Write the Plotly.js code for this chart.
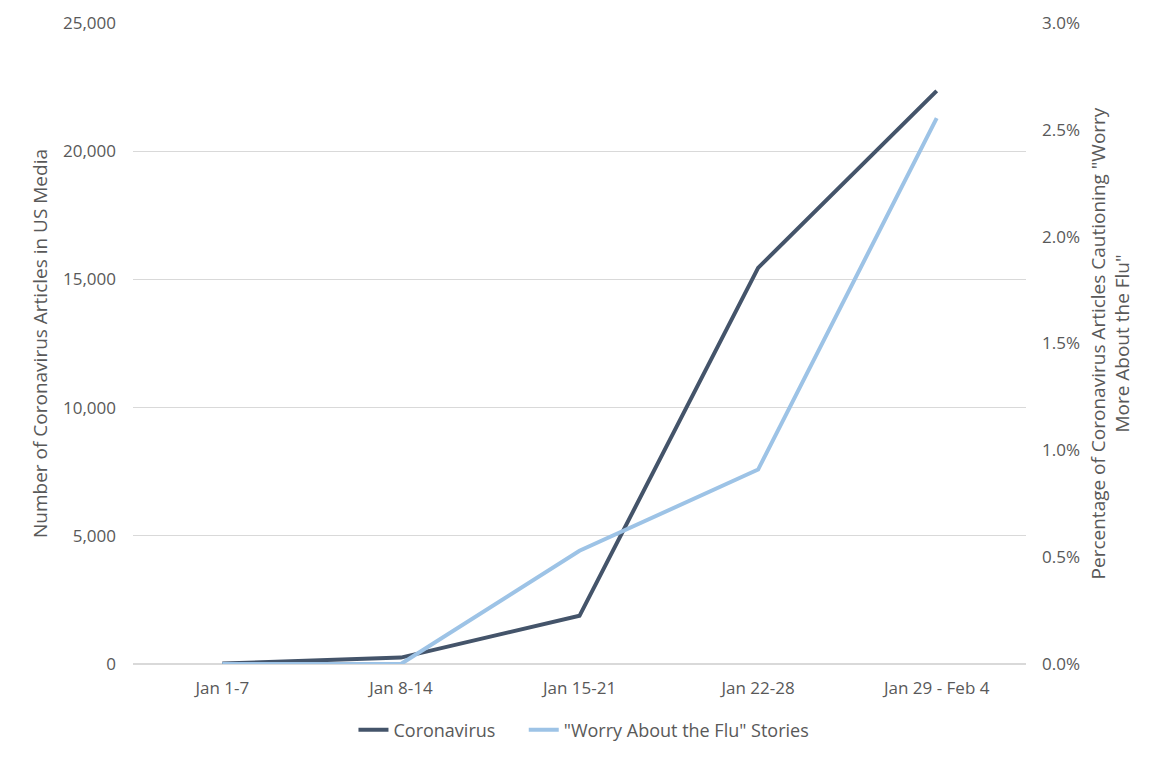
<!DOCTYPE html>
<html>
<head>
<meta charset="utf-8">
<script src="https://cdn.plot.ly/plotly-3.0.1.min.js"></script>
<style>html,body{margin:0;padding:0;background:#fff;}#chart{width:1166px;height:761px;}</style>
</head>
<body>
<div id="chart"></div>
<script>
const categories = ["Jan 1-7", "Jan 8-14", "Jan 15-21", "Jan 22-28", "Jan 29 - Feb 4"];
const coronavirusArticles = [20, 250, 1880, 15450, 22350];
const worryFluShare = [0.0, 0.0, 0.0053, 0.0091, 0.02555];
const leftTicks = [0, 5000, 10000, 15000, 20000, 25000];
const rightTicks = [0, 0.005, 0.01, 0.015, 0.02, 0.025, 0.03];

const FONT = "'Open Sans', Lato, sans-serif";
const TXT = "#595959";
const PAD = "\u00a0\u00a0\u00a0\u00a0\u00a0";

const traces = [
  {
    x: categories, y: coronavirusArticles, name: "Coronavirus" + PAD,
    type: "scatter", mode: "lines", yaxis: "y",
    line: {color: "#44546A", width: 4}
  },
  {
    x: categories, y: worryFluShare, name: "\"Worry About the Flu\" Stories",
    type: "scatter", mode: "lines", yaxis: "y2",
    line: {color: "#9DC3E6", width: 4}
  }
];

const layout = {
  width: 1166, height: 761,
  margin: {l: 133, r: 140, t: 23, b: 97},
  paper_bgcolor: "#fff", plot_bgcolor: "#fff",
  font: {family: FONT, size: 17, color: TXT},
  showlegend: true,
  legend: {orientation: "h", x: 0.505, xanchor: "center", y: -0.103, yanchor: "middle",
           font: {family: FONT, size: 18, color: TXT}},
  xaxis: {
    type: "category", range: [-0.5, 4.5], showgrid: false, zeroline: false,
    showline: false, ticks: "", ticklabelstandoff: 12,
    tickfont: {family: FONT, size: 17, color: TXT}
  },
  yaxis: {
    range: [0, 25000], tickvals: leftTicks, tickformat: ",",
    showgrid: true, gridcolor: "#D9D9D9", gridwidth: 1.3,
    zeroline: true, zerolinecolor: "#D9D9D9", zerolinewidth: 1.3,
    showline: false, ticks: "", ticklabelstandoff: 16,
    tickfont: {family: FONT, size: 17, color: TXT},
    title: {text: "Number of Coronavirus Articles in US Media", standoff: 10,
            font: {family: FONT, size: 19, color: TXT}}
  },
  yaxis2: {
    overlaying: "y", side: "right", range: [0, 0.03], tickvals: rightTicks,
    tickformat: ".1%", showgrid: false, zeroline: false, showline: false,
    ticks: "", ticklabelstandoff: 15,
    tickfont: {family: FONT, size: 17, color: TXT},
    title: {text: "Percentage of Coronavirus Articles Cautioning \"Worry<br>More About the Flu\"", standoff: 12,
            font: {family: FONT, size: 19, color: TXT}}
  }
};

Plotly.newPlot("chart", traces, layout, {displayModeBar: false, staticPlot: true});
</script>
</body>
</html>
